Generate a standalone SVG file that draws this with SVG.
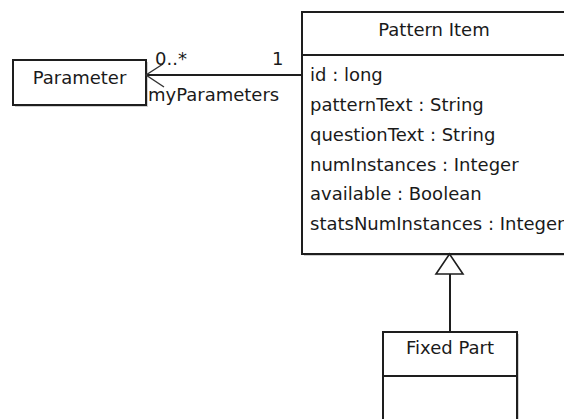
<svg xmlns="http://www.w3.org/2000/svg" width="564" height="419" viewBox="0 0 564 419">
<style>
  text { font-family: "DejaVu Sans", "Liberation Sans", sans-serif; font-size: 18px; fill: #1a1a1a; }
  .c { text-anchor: middle; }
  .box { fill: #ffffff; stroke: #1e1e1e; stroke-width: 2; }
  .shadow { fill: #d0d0d0; stroke: none; }
  .sep { stroke: #1e1e1e; stroke-width: 2; }
  .edge { stroke: #1e1e1e; stroke-width: 2; fill: none; }
  .arrow { stroke: #333333; stroke-width: 1.4; fill: none; }
</style>
<rect width="564" height="419" fill="#ffffff"/>

<g id="parameter">
  <rect class="shadow" x="15" y="62" width="133" height="45"/>
  <rect class="box" x="13" y="60" width="133" height="45"/>
  <text class="c" x="79.5" y="83.5">Parameter</text>
</g>

<g id="pattern-item">
  <rect class="shadow" x="304" y="14" width="264" height="242"/>
  <rect class="box" x="302" y="12" width="264" height="242"/>
  <line class="sep" x1="302" y1="55" x2="566" y2="55"/>
  <text class="c" x="434" y="36">Pattern Item</text>
  <text x="310" y="81">id : long</text>
  <text x="310" y="111">patternText : String</text>
  <text x="310" y="141">questionText : String</text>
  <text x="310" y="171">numInstances : Integer</text>
  <text x="310" y="200">available : Boolean</text>
  <text x="310" y="230">statsNumInstances : Integer</text>
</g>

<g id="fixed-part">
  <rect class="shadow" x="385" y="334" width="134" height="100"/>
  <rect class="box" x="383" y="332" width="134" height="100"/>
  <line class="sep" x1="383" y1="376" x2="517" y2="376"/>
  <text class="c" x="450" y="354">Fixed Part</text>
</g>

<g id="connectors">
  <!-- association Pattern Item -> Parameter -->
  <line class="edge" x1="146" y1="75" x2="302" y2="75"/>
  <polyline class="arrow" points="163,64 146,75 164,87"/>
  <text x="155" y="65">0..*</text>
  <text x="272" y="65">1</text>
  <text x="148" y="101">myParameters</text>
  <!-- generalization Fixed Part -> Pattern Item -->
  <line class="edge" x1="450" y1="274" x2="450" y2="332"/>
  <polygon points="449.5,254 436,274 463,274" fill="#ffffff" stroke="#1e1e1e" stroke-width="1.6"/>
</g>
</svg>
